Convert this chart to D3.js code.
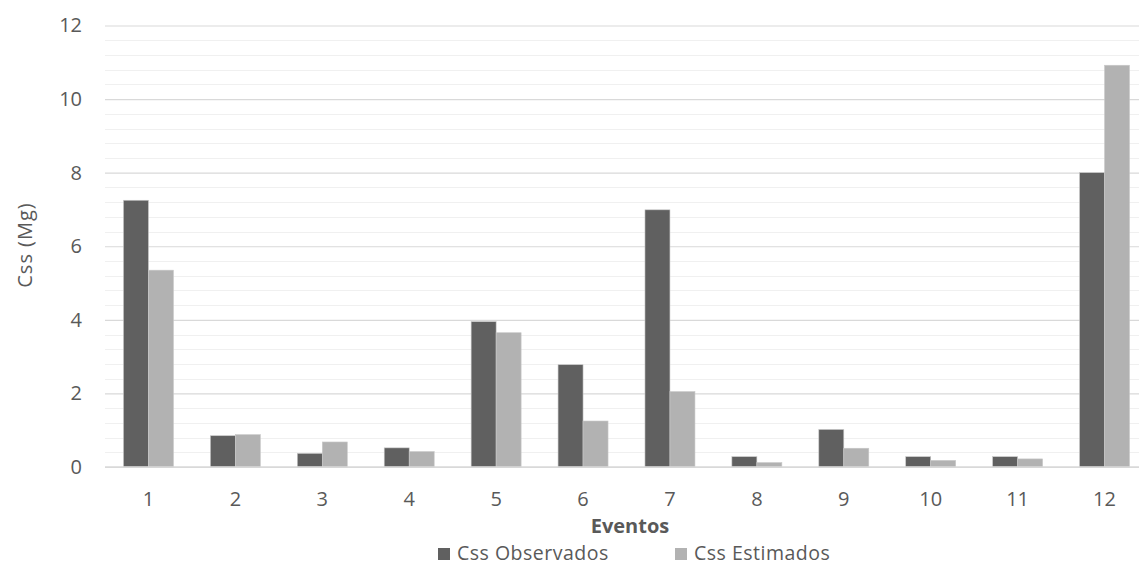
<!DOCTYPE html>
<html>
<head>
<meta charset="utf-8">
<script src="https://cdn.jsdelivr.net/npm/d3@7"></script>
<style>
  html, body { margin: 0; padding: 0; background: #fff; }
  svg { display: block; }
  text { font-family: "Open Sans", "Liberation Sans", sans-serif; fill: #595959; }
</style>
</head>
<body>
<svg id="chart" width="1139" height="565"></svg>
<script>
// Events and sediment load (Mg) per event
const eventos = ["1", "2", "3", "4", "5", "6", "7", "8", "9", "10", "11", "12"];
const observados = [7.25, 0.85, 0.37, 0.52, 3.95, 2.78, 6.99, 0.28, 1.02, 0.28, 0.28, 8.0];
const estimados = [5.35, 0.88, 0.68, 0.42, 3.65, 1.25, 2.05, 0.12, 0.51, 0.18, 0.22, 10.92];
const seriesNames = ["Css Observados", "Css Estimados"];
const seriesColors = ["#606060", "#b2b2b2"];
const yTicks = [0, 2, 4, 6, 8, 10, 12];

const svg = d3.select("#chart");
const plotLeft = 105, plotRight = 1148, plotTop = 25.5, plotBottom = 467;

const x = d3.scaleBand().domain(eventos).range([plotLeft, plotRight]).paddingInner(0.425).paddingOuter(0.2125);
const xs = d3.scaleBand().domain(seriesNames).range([0, x.bandwidth()]);
const y = d3.scaleLinear().domain([0, 12]).range([plotBottom, plotTop]);

// minor gridlines every 0.4
const minor = d3.range(0, 12.001, 0.4).filter(v => Math.abs(v / 2 - Math.round(v / 2)) > 1e-6);
svg.append("g").selectAll("line").data(minor).join("line")
  .attr("x1", plotLeft).attr("x2", 1139)
  .attr("y1", d => Math.round(y(d)) + 0.5).attr("y2", d => Math.round(y(d)) + 0.5)
  .attr("stroke", "#f0f0f0").attr("stroke-width", 1);

// major gridlines + y labels
const yAxis = d3.axisLeft(y).tickValues(yTicks).tickSize(-(1139 - plotLeft)).tickPadding(23);
const gy = svg.append("g").attr("transform", `translate(${plotLeft},0)`).call(yAxis);
gy.select(".domain").remove();
gy.selectAll(".tick line").attr("stroke", "#d9d9d9").attr("stroke-width", 1.2);
gy.selectAll(".tick text").attr("font-size", 20).attr("fill", "#595959")
  .attr("font-family", "'Open Sans', sans-serif");

// bars
const rows = eventos.map((e, i) => ({ e, vals: [observados[i], estimados[i]] }));
const groups = svg.append("g").selectAll("g").data(rows).join("g")
  .attr("transform", d => `translate(${x(d.e)},0)`);
groups.selectAll("rect").data(d => d.vals.map((v, j) => ({ v, name: seriesNames[j], c: seriesColors[j] })))
  .join("rect")
  .attr("x", d => xs(d.name))
  .attr("width", xs.bandwidth())
  .attr("y", d => y(d.v))
  .attr("height", d => y(0) - y(d.v))
  .attr("fill", d => d.c)
  .attr("stroke", "#c8c8c8").attr("stroke-width", 0.6);

// baseline
svg.append("line").attr("x1", plotLeft).attr("x2", 1139)
  .attr("y1", y(0)).attr("y2", y(0)).attr("stroke", "#d9d9d9").attr("stroke-width", 1.3);

// x axis labels
const xAxis = d3.axisBottom(x).tickSize(0).tickPadding(25);
const gx = svg.append("g").attr("transform", `translate(0,${plotBottom})`).call(xAxis);
gx.select(".domain").remove();
gx.selectAll(".tick text").attr("font-size", 20).attr("fill", "#595959")
  .attr("font-family", "'Open Sans', sans-serif");

// axis titles
svg.append("text").attr("x", 630).attr("y", 533).attr("text-anchor", "middle")
  .attr("font-size", 20).attr("font-weight", "bold").text("Eventos");
svg.append("text").attr("transform", "translate(32,245) rotate(-90)").attr("text-anchor", "middle")
  .attr("font-size", 20).attr("letter-spacing", 1).text("Css (Mg)");

// legend
const legendX = [438, 675];
const lg = svg.append("g").selectAll("g").data(seriesNames).join("g")
  .attr("transform", (d, i) => `translate(${legendX[i]},554)`);
lg.append("rect").attr("x", 0).attr("y", -6).attr("width", 12).attr("height", 12)
  .attr("fill", (d, i) => seriesColors[i]);
lg.append("text").attr("x", 19).attr("y", 6).attr("font-size", 19.5).attr("letter-spacing", 0.5).text(d => d);
</script>
</body>
</html>
